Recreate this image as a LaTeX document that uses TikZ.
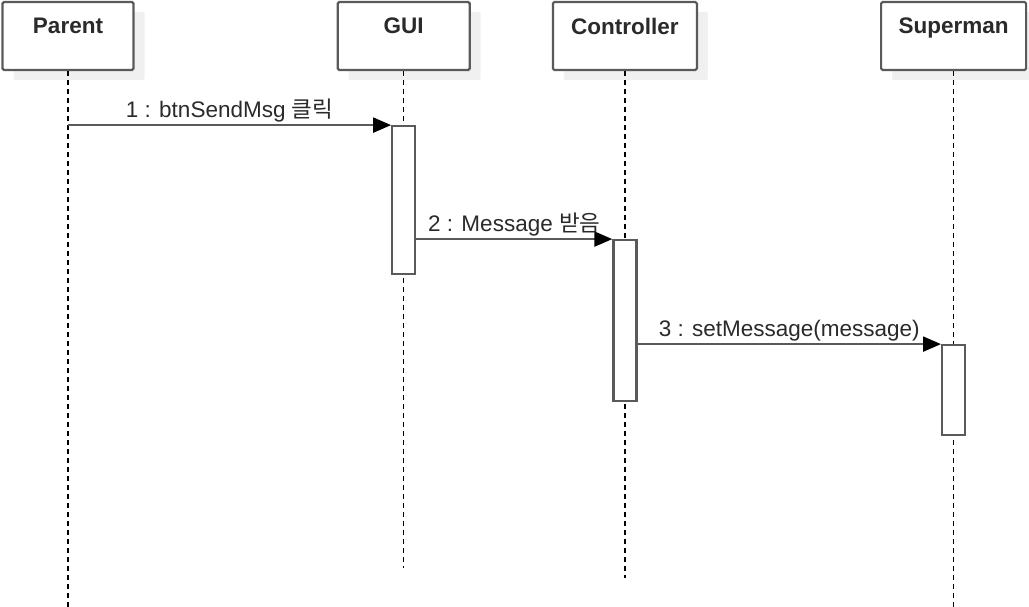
\documentclass[tikz,border=0pt]{standalone}
\usepackage{fontspec}
\setmainfont{Liberation Sans}
\newfontfamily\kor{Noto Sans CJK KR}
\usepackage{tikz}
\usetikzlibrary{positioning,arrows.meta,shadows}
\definecolor{linegray}{HTML}{5A5A5A}
\definecolor{textgray}{HTML}{2A2A2A}
\definecolor{shadowgray}{HTML}{F0F0F0}

\begin{document}
\begin{tikzpicture}[x=1pt,y=1pt,semithick]
  \tikzstyle{object}=[draw=linegray,line width=2.2pt,fill=white,rounded corners=1.5pt,
                      minimum height=68pt,inner sep=0pt,
                      drop shadow={shadow xshift=11pt,shadow yshift=-10pt,fill=shadowgray,opacity=1}]
  \tikzstyle{objname}=[anchor=north,yshift=-17pt,inner sep=0pt,text=textgray,
                       font=\fontsize{22.5}{26}\selectfont\bfseries]
  \tikzstyle{lifeline}=[draw=black,line width=1.5pt,dash pattern=on 5pt off 4pt]
  \tikzstyle{activation}=[draw=linegray,line width=2.2pt,fill=white,minimum width=23pt,inner sep=0pt]
  \tikzstyle{msg}=[draw=linegray,line width=2.2pt,-{Triangle[length=18pt,width=15pt,color=black]}]
  \tikzstyle{lbl}=[above,inner sep=1.5pt,text=textgray,font=\fontsize{22.5}{26}\selectfont]

  \useasboundingbox (0,0) rectangle (1029,-607);

  \node[object,minimum width=131pt] (P) at (68,-36)  {};
  \node[object,minimum width=132pt] (G) [right=202pt of P] {};
  \node[object,minimum width=144pt] (C) [right=81pt of G]  {};
  \node[object,minimum width=145pt] (S) [right=182pt of C] {};

  \node[objname] (Pname) at (P.north) {Parent};
  \node[objname] (Gname) at (G.north) {GUI};
  \node[objname] (Cname) at (C.north) {Controller};
  \node[objname] (Sname) at (S.north) {Superman};

  % lifelines
  \draw[lifeline] (P.south) -- (P.south |- 0,-607);
  \draw[lifeline] (G.south) -- (G.south |- 0,-568);
  \draw[lifeline] (C.south) -- (C.south |- 0,-578);
  \draw[lifeline] (S.south) -- (S.south |- 0,-607);

  \node[activation,minimum height=148pt] (g1) [below=54pt of G]  {};
  \node[activation,minimum height=161pt] (c1) [below=168pt of C] {};
  \node[activation,minimum height=90pt]  (s1) [below=273pt of S] {};

  \coordinate (m1) at (P.south |- g1.north);
  \coordinate (m2) at (g1.east |- c1.north);
  \coordinate (m3) at (c1.east |- s1.north);

  \path (m1) edge[msg] node[lbl] {1 : btnSendMsg {\kor 클릭}} (g1.north west)
        (m2) edge[msg] node[lbl] {2 : Message {\kor 받음}} (c1.north west)
        (m3) edge[msg] node[lbl] {3 : setMessage(message)} (s1.north west);
\end{tikzpicture}
\end{document}
